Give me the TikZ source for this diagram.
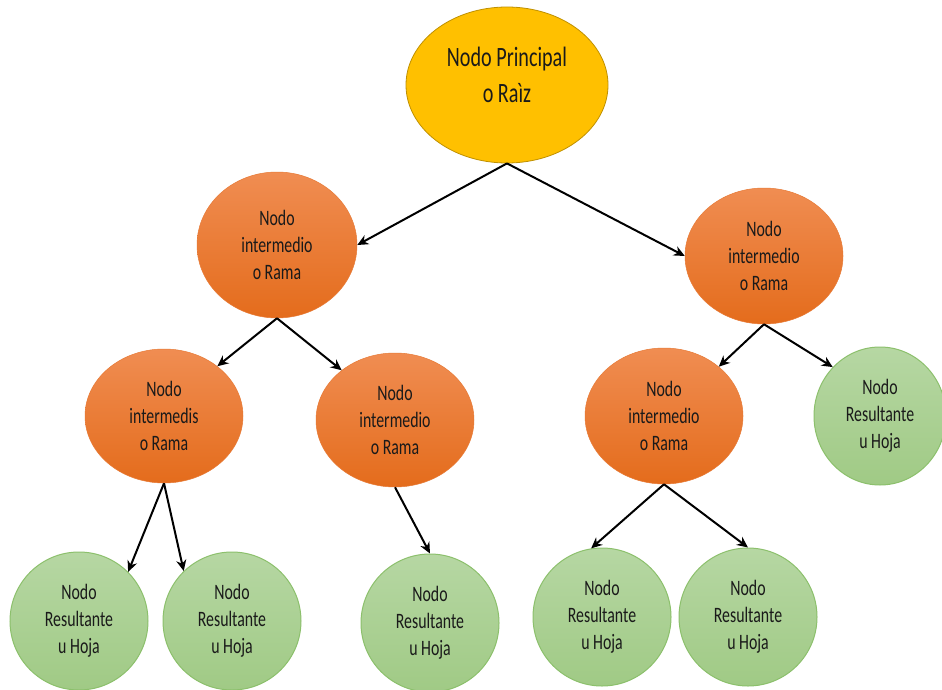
\documentclass[tikz,border=0pt]{standalone}
\usepackage{fontspec}
\setmainfont{Carlito}[FakeStretch=0.72]
\usetikzlibrary{shapes.geometric,arrows.meta}
\definecolor{rootfill}{HTML}{FFC000}
\definecolor{rootline}{HTML}{BF9000}
\definecolor{ramatop}{HTML}{F08D52}
\definecolor{ramabot}{HTML}{E46C1C}
\definecolor{ramaline}{HTML}{E77A36}
\definecolor{hojatop}{HTML}{B6D7A3}
\definecolor{hojabot}{HTML}{A0CA85}
\definecolor{hojaline}{HTML}{8CC06C}
\definecolor{textcol}{HTML}{1A1A1A}

\begin{document}
\begin{tikzpicture}[x=1pt,y=-1pt,
  every node/.style={inner sep=0pt, align=center, text=textcol},
  raiz/.style={ellipse, fill=rootfill, draw=rootline, line width=0.8pt,
    minimum width=202pt, minimum height=156pt},
  raiztexto/.style={font=\fontsize{28}{36}\selectfont},
  rama/.style={ellipse, top color=ramatop, bottom color=ramabot,
    draw=ramaline, line width=0.5pt, minimum width=158pt, minimum height=136pt,
    font=\fontsize{22}{27}\selectfont},
  hoja/.style={ellipse, top color=hojatop, bottom color=hojabot,
    draw=hojaline, line width=1pt, minimum width=138pt, minimum height=138pt,
    font=\fontsize{22}{27}\selectfont},
  enlace/.style={line width=2pt, draw=black, -{Stealth[length=11pt,width=10pt]}}
]
\useasboundingbox[fill=white] (0,0) rectangle (942,690);

% root
\node[raiz] (raiz) at (507,85) {};
\node[raiztexto] (raiztxt) at (507,75) {Nodo Principal\\o Raìz};

% branches
\node[rama, minimum width=160pt, minimum height=146pt] (ramaI) at (277,245) {Nodo\\intermedio\\o Rama};
\node[rama] (ramaD) at (764,256) {Nodo\\intermedio\\o Rama};
\node[rama, minimum height=134pt] (ramaIa) at (164,416) {Nodo\\intermedis\\o Rama};
\node[rama, minimum height=134pt] (ramaIb) at (395,420) {Nodo\\intermedio\\o Rama};
\node[rama] (ramaDa) at (664,416) {Nodo\\intermedio\\o Rama};

% leaves
\node[hoja, minimum width=132pt] (hojaD) at (880,416) {Nodo\\Resultante\\u Hoja};
\node[hoja] (hoja1) at (79,621) {Nodo\\Resultante\\u Hoja};
\node[hoja] (hoja2) at (232,621) {Nodo\\Resultante\\u Hoja};
\node[hoja] (hoja3) at (430,623) {Nodo\\Resultante\\u Hoja};
\node[hoja] (hoja4) at (602,617) {Nodo\\Resultante\\u Hoja};
\node[hoja] (hoja5) at (748,617) {Nodo\\Resultante\\u Hoja};

% connectors
\draw[enlace] (raiz.south) -- (ramaI.east);
\draw[enlace] (raiz.south) -- (ramaD.west);
\draw[enlace] (ramaI.south) -- (ramaIa.43);
\draw[enlace] (ramaI.south) -- (ramaIb.137);
\draw[enlace] (ramaIa.south) -- (hoja1.45);
\draw[enlace] (ramaIa.south) -- (hoja2.134);
\draw[enlace] (ramaIb.south) -- (hoja3.north);
\draw[enlace] (ramaD.south) -- (ramaDa.42);
\draw[enlace] (ramaD.south) -- (hojaD.134);
\draw[enlace] (ramaDa.south) -- (hoja4.99);
\draw[enlace] (ramaDa.south) -- (hoja5.north);
\end{tikzpicture}
\end{document}
